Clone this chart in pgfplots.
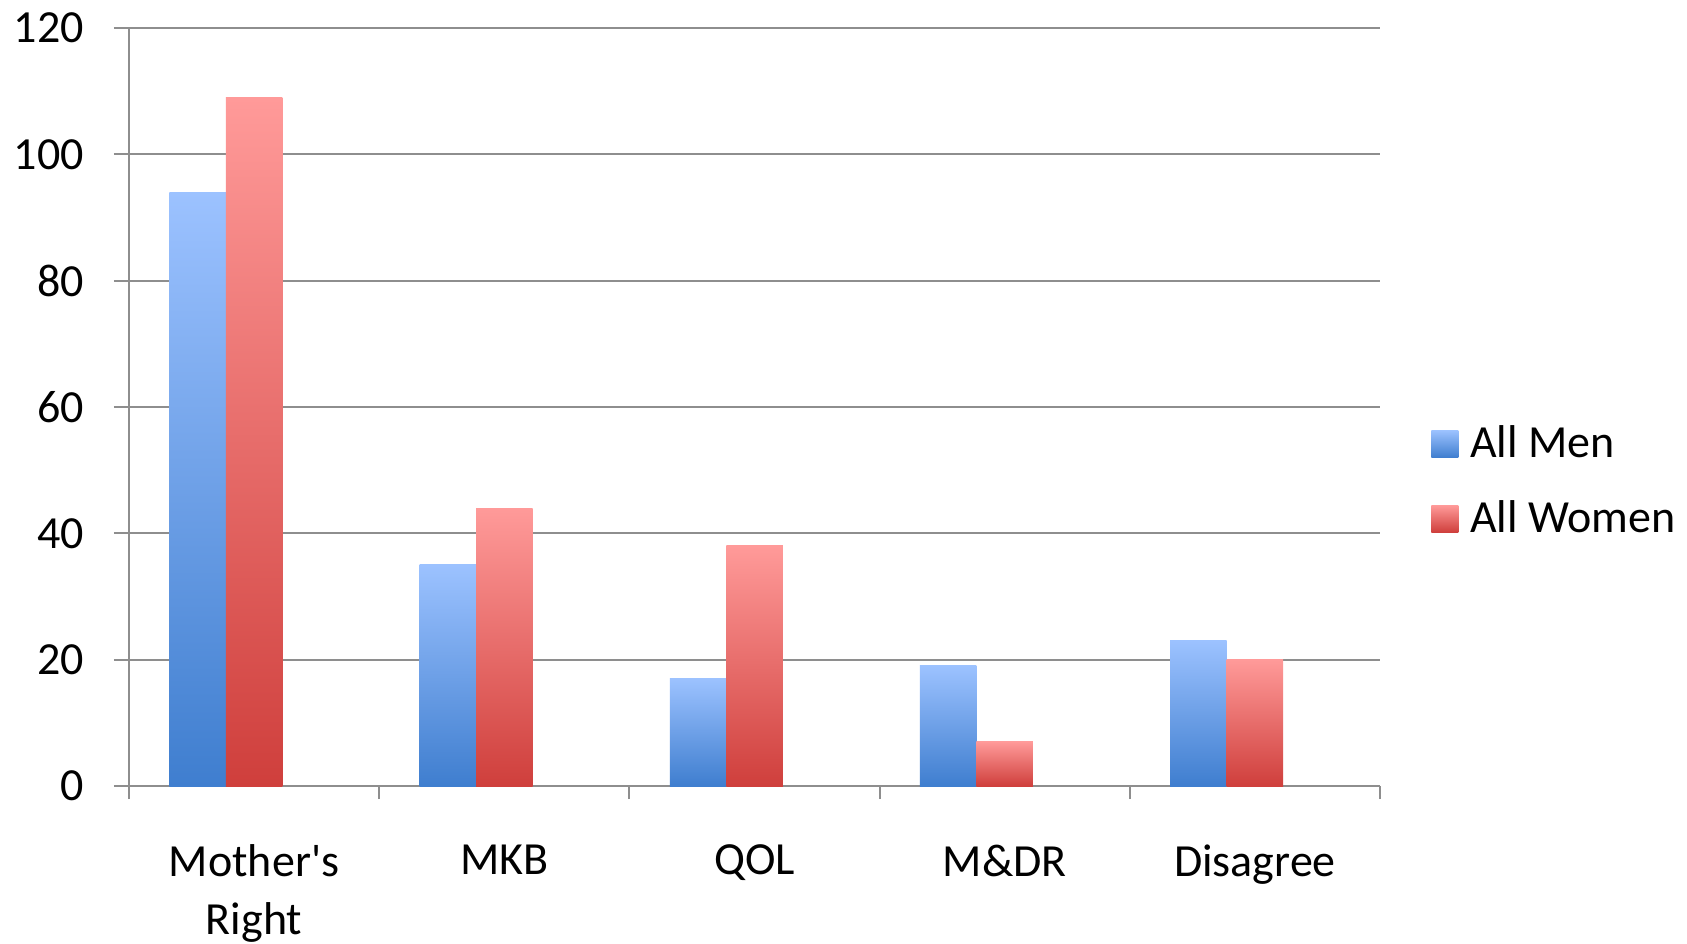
\documentclass[border=0pt]{standalone}
\usepackage{fontspec}
\setmainfont{Carlito}
\usepackage{pgfplots}
\pgfplotsset{compat=1.18}
\definecolor{mentop}{HTML}{9CC2FF}
\definecolor{menbot}{HTML}{3F7ECF}
\definecolor{womtop}{HTML}{FF9A99}
\definecolor{wombot}{HTML}{CF3F3C}
\definecolor{gridc}{HTML}{8E8E8E}
\pgfplotsset{
  menbar/.style={draw=none, top color=mentop, bottom color=menbot, bar shift=-28.25pt},
  wombar/.style={draw=none, top color=womtop, bottom color=wombot, bar shift=0pt},
}
\begin{document}
\fontsize{23}{27}\selectfont
\begin{tikzpicture}
\useasboundingbox (-64.5pt,-78.5pt) rectangle (779pt,393pt);
\begin{axis}[
  at={(0,0)}, anchor=south west,
  scale only axis, width=625.5pt, height=379pt,
  ybar=0pt, bar width=28.25pt,
  xmin=-0.5, xmax=4.5, ymin=0, ymax=120,
  xtick={0,1,2,3,4},
  xticklabels={{Mother\textquotesingle s\\Right},MKB,QOL,M\&DR,Disagree},
  minor xtick={-0.5,0.5,1.5,2.5,3.5,4.5},
  ytick={0,20,...,120},
  major x tick style={draw=none},
  minor tick length=6.5pt,
  major tick length=7.5pt,
  tick align=outside,
  tick pos=left,
  tick style={gridc, line width=1pt},
  ymajorgrids, grid style={gridc, line width=1pt},
  axis line style={gridc, line width=1pt},
  axis x line*=bottom, axis y line*=left,
  separate axis lines,
  /pgf/number format/assume math mode=true,
  ticklabel style={font=\fontsize{23}{29}\selectfont},
  xticklabel style={align=center, anchor=north, yshift=-14pt},
  yticklabel style={xshift=-7.3pt},
  legend style={draw=none, fill=none, at={(1.036,0.400)}, anchor=west,
    font=\fontsize{23}{27}\selectfont, row sep=14pt,
    legend cell align=left},
  legend image code/.code={\path[#1, draw=none] (0pt,-6pt) rectangle (13.5pt,7.5pt); \path (17.4pt,0pt);},
]
\addplot[menbar] coordinates {(0,94)};
\addlegendentry{All Men}
\addplot[wombar] coordinates {(0,109)};
\addlegendentry{All Women}
\addplot[menbar, forget plot] coordinates {(1,35)};
\addplot[menbar, forget plot] coordinates {(2,17)};
\addplot[menbar, forget plot] coordinates {(3,19)};
\addplot[menbar, forget plot] coordinates {(4,23)};
\addplot[wombar, forget plot] coordinates {(1,44)};
\addplot[wombar, forget plot] coordinates {(2,38)};
\addplot[wombar, forget plot] coordinates {(3,7)};
\addplot[wombar, forget plot] coordinates {(4,20)};
\end{axis}
\end{tikzpicture}
\end{document}
